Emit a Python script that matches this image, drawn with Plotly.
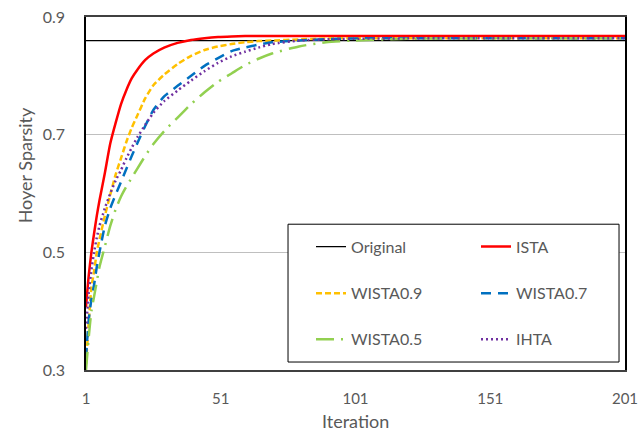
import plotly.graph_objects as go

# Iteration samples shared by every series
iterations = [1, 2, 3, 4, 5, 6, 8, 10, 12, 14, 16, 18, 20, 23, 26, 30, 35, 40,
              45, 50, 55, 60, 65, 70, 80, 90, 100, 120, 150, 201]

original_level = 0.860

ista = [0.407, 0.46, 0.50, 0.532, 0.562, 0.588, 0.635, 0.685, 0.72, 0.752, 0.776,
        0.796, 0.81, 0.827, 0.838, 0.848, 0.856, 0.861, 0.864, 0.866, 0.867, 0.8675,
        0.8675, 0.8675, 0.8675, 0.8675, 0.8675, 0.8675, 0.8675, 0.8675]
wista09 = [0.31, 0.38, 0.44, 0.468, 0.50, 0.522, 0.562, 0.598, 0.632, 0.66, 0.688,
           0.712, 0.732, 0.762, 0.784, 0.802, 0.82, 0.834, 0.844, 0.85, 0.854, 0.857,
           0.859, 0.86, 0.862, 0.8635, 0.864, 0.864, 0.864, 0.864]
wista07 = [0.32, 0.385, 0.42, 0.445, 0.475, 0.50, 0.545, 0.575, 0.598, 0.62, 0.642,
           0.664, 0.685, 0.715, 0.742, 0.765, 0.783, 0.80, 0.817, 0.83, 0.842, 0.848,
           0.853, 0.857, 0.86, 0.8625, 0.8635, 0.864, 0.864, 0.864]
wista05 = [0.30, 0.355, 0.40, 0.425, 0.45, 0.475, 0.51, 0.545, 0.573, 0.595, 0.612,
           0.627, 0.642, 0.664, 0.684, 0.706, 0.729, 0.752, 0.772, 0.79, 0.804, 0.818,
           0.829, 0.838, 0.85, 0.857, 0.86, 0.863, 0.8637, 0.8637]
ihta = [0.37, 0.43, 0.47, 0.50, 0.525, 0.545, 0.575, 0.60, 0.622, 0.64, 0.66,
        0.678, 0.695, 0.717, 0.737, 0.757, 0.775, 0.792, 0.808, 0.822, 0.833, 0.841,
        0.848, 0.854, 0.86, 0.862, 0.863, 0.8637, 0.8637, 0.8637]

x_ticks = [1, 51, 101, 151, 201]
y_ticks = [0.3, 0.5, 0.7, 0.9]

FONT = "Lato"
GREY = "#595959"

fig = go.Figure()

# (name, values, colour, width, dash, legend row)
series = [
    ("Original", [original_level] * len(iterations), "#000000", 1.3, "solid", "legend"),
    ("ISTA", ista, "#FF0000", 2.5, "solid", "legend"),
    ("WISTA0.9", wista09, "#FFC000", 2.5, "6px,3px", "legend2"),
    ("WISTA0.7", wista07, "#0070C0", 2.5, "10px,7px", "legend2"),
    ("WISTA0.5", wista05, "#92D050", 2.5, "18px,7px,2px,7px", "legend3"),
    ("IHTA", ihta, "#7030A0", 2.5, "2px,3px", "legend3"),
]

for name, vals, color, width, dash, leg in series:
    fig.add_trace(go.Scatter(
        x=iterations, y=vals, mode="lines", name=name,
        line=dict(color=color, width=width, dash=dash,
                  shape="linear" if name == "Original" else "spline", smoothing=0.6),
        legend=leg,
    ))

# legend rows are placed in container coordinates so they never push the margins
legend_common = dict(
    orientation="h", xref="container", yref="container",
    xanchor="left", yanchor="middle",
    bgcolor="rgba(0,0,0,0)", borderwidth=0,
    font=dict(family=FONT, size=16, color=GREY),
    entrywidth=120, entrywidthmode="pixels",
    itemwidth=30, traceorder="normal",
)
H = 433.0
legend_x = 311 / 640

fig.update_layout(
    width=640, height=433,
    margin=dict(l=86, r=15, t=17, b=63, autoexpand=False),
    paper_bgcolor="white", plot_bgcolor="white",
    showlegend=True,
    legend=dict(x=legend_x, y=1 - 246.7 / H, **legend_common),
    legend2=dict(x=legend_x, y=1 - 293.3 / H, **legend_common),
    legend3=dict(x=legend_x, y=1 - 339.3 / H, **legend_common),
    xaxis=dict(
        range=[1, 201], tickvals=x_ticks, ticktext=[str(v) for v in x_ticks],
        showgrid=False, zeroline=False,
        showline=True, linecolor="#404040", linewidth=1.5, mirror=True,
        ticks="outside", ticklen=14, tickcolor="rgba(0,0,0,0)",
        tickfont=dict(family=FONT, size=15, color=GREY),
    ),
    yaxis=dict(
        range=[0.3, 0.9], tickvals=y_ticks, ticktext=[f"{v:.1f}" for v in y_ticks],
        showgrid=True, gridcolor="#BFBFBF", gridwidth=1.2, zeroline=False,
        showline=True, linecolor="#000000", linewidth=1.5, mirror=True,
        ticks="outside", ticklen=16, tickcolor="rgba(0,0,0,0)",
        tickfont=dict(family=FONT, size=16, color=GREY),
    ),
    shapes=[dict(
        type="rect", xref="paper", yref="paper",
        x0=0.3748, x1=0.9889, y0=0.0226, y1=0.413,
        fillcolor="white", line=dict(color="#000000", width=1), layer="above",
    )],
    annotations=[
        dict(text="Iteration", xref="paper", yref="paper", x=0.5, y=-0.145,
             xanchor="center", yanchor="middle", showarrow=False,
             font=dict(family=FONT, size=18, color=GREY)),
        dict(text="Hoyer Sparsity", xref="paper", yref="paper", x=-0.113, y=0.58,
             xanchor="center", yanchor="middle", textangle=-90, showarrow=False,
             font=dict(family=FONT, size=18, color=GREY)),
    ],
)

fig.write_html("out.html")
